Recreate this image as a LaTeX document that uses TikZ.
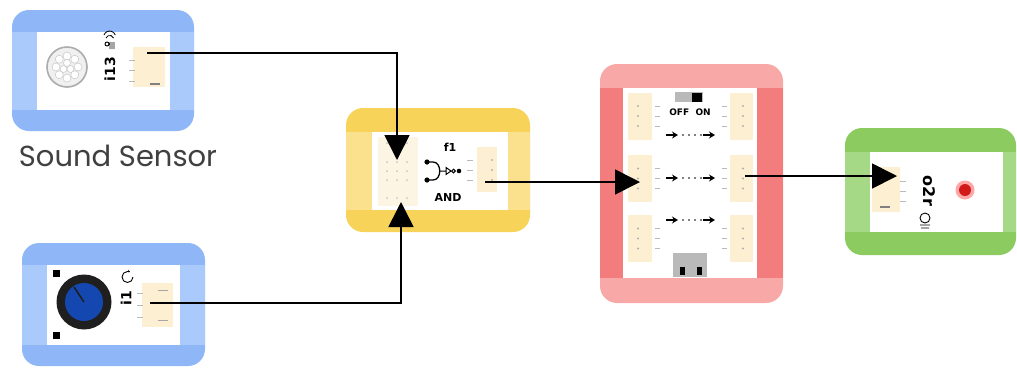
\documentclass[tikz,border=0pt]{standalone}
\usepackage{fontspec}
\setsansfont{DejaVu Sans}
\newfontfamily\capfont{Poppins}
\usetikzlibrary{arrows.meta}
\definecolor{blueA}{HTML}{8FB7F7}
\definecolor{blueB}{HTML}{AACAFB}
\definecolor{yelA}{HTML}{F8D35A}
\definecolor{yelB}{HTML}{FBE08E}
\definecolor{redA}{HTML}{F9A8A8}
\definecolor{redB}{HTML}{F37C7C}
\definecolor{grnA}{HTML}{8BCB5F}
\definecolor{grnB}{HTML}{A6D985}
\definecolor{portc}{HTML}{FCEFD2}
\definecolor{knob}{HTML}{1448B0}
\begin{document}
\begin{tikzpicture}[x=1pt, y=-1pt,
    shell/.style={rounded corners=17pt, inner sep=0pt},
    band/.style={inner sep=0pt},
    card/.style={fill=white, inner sep=0pt},
    port/.style={fill=portc, inner sep=0pt},
    tick/.style={draw=gray!55, line width=0.6pt},
    lbl/.style={font=\sffamily\bfseries\fontsize{11}{11}\selectfont, inner sep=0pt},
    tag/.style={font=\sffamily\bfseries\fontsize{14}{14}\selectfont, inner sep=0pt},
    wire/.style={line width=1.7pt, -{Triangle[length=25pt,width=25pt]}},
    flow/.style={line width=1.5pt, -{Stealth[length=6pt,width=7pt]}}]
  \useasboundingbox (0,0) rectangle (1017,368);
  % module bodies: shell, side bands, white card
  \foreach \n/\cx/\cy/\w/\h/\ix/\iy/\iw/\ih/\ca/\cb in {
      snd/103/70.5/182/121/103.5/71/133/78/blueA/blueB,
      pot/113.5/304.5/183/123/113.5/305/133/80/blueA/blueB,
      gate/438/170/184/124/440/171/136/78/yelA/yelB,
      hub/691.5/183.5/183/239/690/183/134/190/redA/redB,
      led/930.5/191.5/171/127/936.5/192/133/80/grnA/grnB} {
    \node[shell, fill=\ca, minimum width=\w pt, minimum height=\h pt] (\n) at (\cx,\cy) {};
    \node[band, fill=\cb, minimum width=\w pt, minimum height=\ih pt] at (\cx,\iy) {};
    \node[card, minimum width=\iw pt, minimum height=\ih pt] (\n-card) at (\ix,\iy) {};
  }

  % sound sensor
  \filldraw[fill=gray!12, draw=gray!65, line width=1.6pt] (67,67) circle (20);
  \foreach \a in {0,45,...,315} \draw[gray!50, fill=white] (67,67) ++(\a:11) circle (4);
  \foreach \a in {30,150,270} \draw[gray!50, fill=white] (67,67) ++(\a:4) circle (3.5);
  \node[tag, rotate=90] (snd-name) at (110,69) {i13};
  \draw[line width=0.8pt] (104,35) arc (200:340:6) (106,38) arc (200:340:4);
  \draw[line width=0.9pt] (107,44) circle (2) (110,42) -- (110,49) (112,42) -- (112,49) (114,42) -- (114,49);
  \node[port, minimum width=32pt, minimum height=40pt] (snd-port) at (149,67) {};
  \foreach \y in {60,70,81} \draw[tick] (129,\y) -- (135,\y);
  \draw[gray, line width=1.2pt] (150,84) -- (160,84);
  \coordinate (snd-pin) at (147,53);
  \node[text=black!75, font=\capfont\fontsize{29}{29}\selectfont] (snd-cap) at (118,156) {Sound Sensor};

  % rotary knob
  \fill[black!88] (84,302) circle (27.5);
  \fill[knob] (84,302) circle (19);
  \draw[black!88, line width=1.6pt] (84,302) -- (74,287);
  \foreach \y in {273,335} \node[fill=black, minimum size=7pt, inner sep=0pt] at (56,\y) {};
  \node[tag, rotate=90] (pot-name) at (126,298) {i1};
  \draw[line width=0.9pt, -{Stealth[length=3pt]}] (133,277) arc (0:300:5.5);
  \node[port, minimum width=31pt, minimum height=44pt] (pot-port) at (157.5,305) {};
  \foreach \y in {293,305,317} \draw[tick] (137,\y) -- (143,\y);
  \foreach \y in {290,320} \draw[gray!70, line width=1pt] (158,\y) -- (168,\y);
  \coordinate (pot-pin) at (150,303);

  % AND gate
  \node[port, fill=portc!60, minimum width=40pt, minimum height=69pt] (gate-in) at (398,171.5) {};
  \foreach \x in {387,397,407} \foreach \y in {143,162,171,180,198} \fill[gray!45] (\x,\y) circle (1);
  \node[lbl] (gate-name) at (450,147) {f1};
  \node[lbl] (gate-op) at (448,197) {AND};
  \fill (427,162) circle (2.6) (427,180) circle (2.6);
  \draw[line width=1.3pt] (427,162) -- (433,162) .. controls (442,162) and (442,180) .. (433,180) -- (427,180);
  \draw[line width=1pt] (440,171) -- (446,171) (446,167.5) -- (451,171) -- (446,174.5) -- cycle (453.5,171) circle (1.8);
  \fill (459,171) circle (2.3);
  \node[port, minimum width=20pt, minimum height=45pt] (gate-out) at (487,169.5) {};
  \foreach \y in {160,170,180} {\draw[tick] (467,\y) -- (473,\y); \fill[gray!60] (492,\y) circle (1.2);}
  \coordinate (gate-top) at (397,160);
  \coordinate (gate-bot) at (401,202);
  \coordinate (gate-pin) at (485,182);

  % splitter hub
  \node[fill=gray!55, minimum width=28pt, minimum height=10pt, inner sep=0pt] (switch) at (689,97) {};
  \node[fill=black, minimum width=10pt, minimum height=9pt, inner sep=0pt] at (697,97) {};
  \node[lbl, font=\sffamily\bfseries\fontsize{9}{9}\selectfont] (switch-txt) at (690,112) {OFF\ \ ON};
  \foreach \y in {135,178,220} {
    \draw[flow] (666,\y) -- (678,\y);
    \foreach \x in {683,689,695,701} \fill (\x,\y) circle (0.9);
    \draw[flow] (703,\y) -- (715,\y);
  }
  \foreach \y [count=\i] in {116,178.5,238.5} {
    \node[port, minimum width=24pt, minimum height=47pt] (hub-l\i) at (640,\y) {};
    \node[port, minimum width=23pt, minimum height=47pt] (hub-r\i) at (741.5,\y) {};
    \foreach \d in {-10,0,10} {
      \fill[gray!60] (638,\y+\d) circle (1.2);
      \fill[gray!60] (743,\y+\d) circle (1.2);
      \draw[tick] (655,\y+\d) -- (660,\y+\d);
      \draw[tick] (722,\y+\d) -- (727,\y+\d);
    }
  }
  \node[fill=gray!55, minimum width=34pt, minimum height=24pt, inner sep=0pt] (usb) at (690,265) {};
  \foreach \x in {682,699} \fill (\x-2.5,267) rectangle (\x+2.5,275);
  \coordinate (hub-in) at (640,182);
  \coordinate (hub-pin) at (745,176);

  % LED output
  \node[port, minimum width=28pt, minimum height=45pt] (led-port) at (886,189.5) {};
  \foreach \y in {181,191,201} \draw[tick] (900,\y) -- (906,\y);
  \draw[gray, line width=1.2pt] (880,207) -- (890,207);
  \node[tag, rotate=-90, font=\sffamily\bfseries\fontsize{16}{16}\selectfont] (led-name) at (929,191) {o2r};
  \draw[line width=0.9pt] (925,218) circle (5) (920,225) -- (930,225) (921,228) -- (929,228);
  \fill[red!35] (965,190) circle (9.5);
  \fill[red!80!black!90] (965,190) circle (6);
  \coordinate (led-in) at (897,176);

  % wiring
  \draw[wire] (snd-pin) -| (gate-top);
  \draw[wire] (pot-pin) -| (gate-bot);
  \draw[wire] (gate-pin) -- (hub-in);
  \draw[wire] (hub-pin) -- (led-in);
\end{tikzpicture}
\end{document}
